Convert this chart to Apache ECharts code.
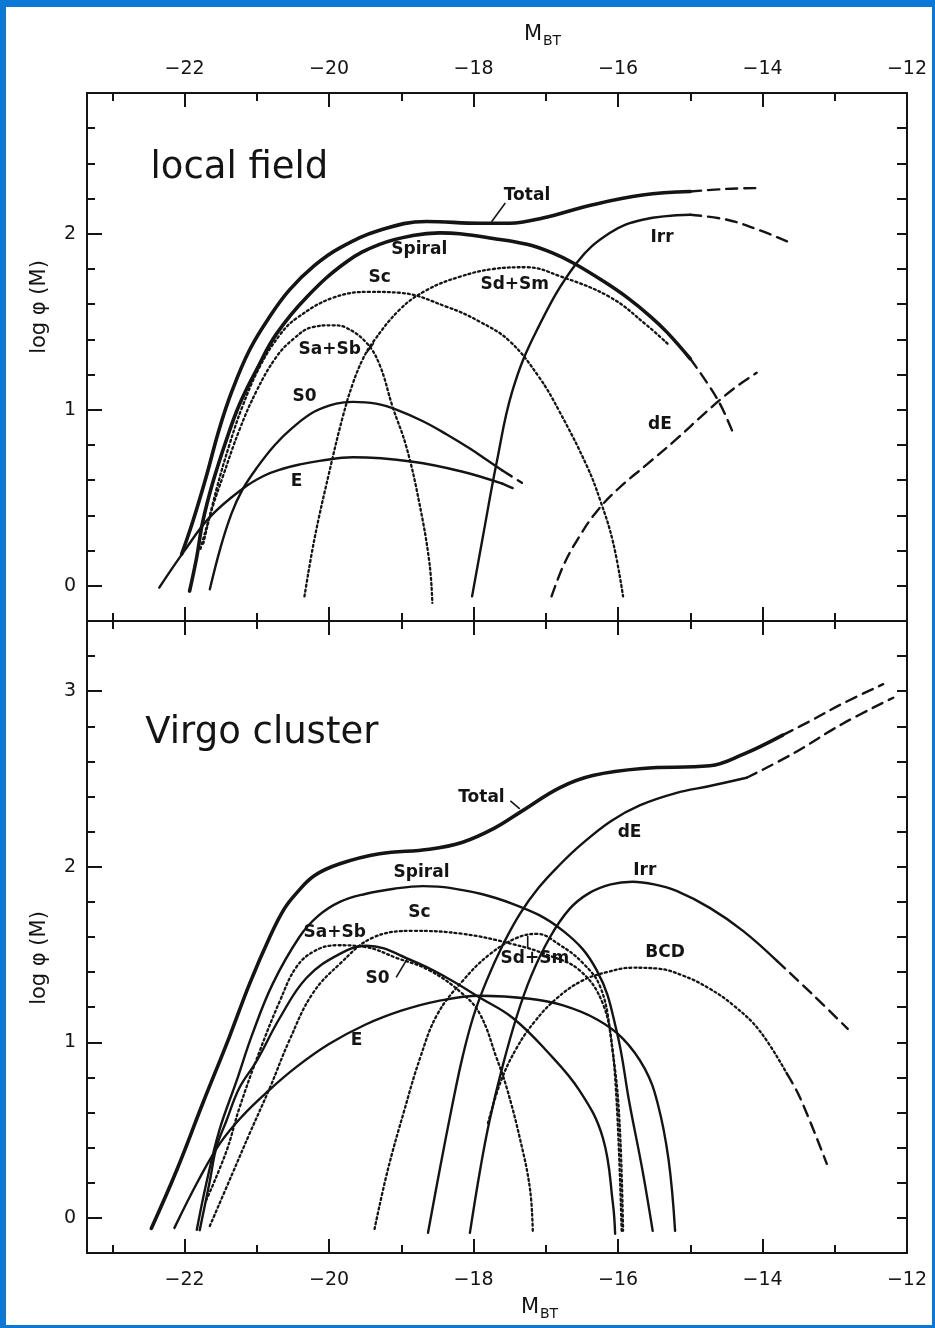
<!DOCTYPE html>
<html>
<head>
<meta charset="utf-8">
<script src="https://cdn.jsdelivr.net/npm/echarts@6/dist/echarts.min.js"></script>
<style>
  html, body { margin: 0; padding: 0; background: #0a78d4; }
  #paper { position: absolute; left: 6px; top: 7px; right: 3px; bottom: 3px; background: #fff; }
  #chart { position: absolute; left: 0; top: 0; width: 935px; height: 1328px; }
</style>
</head>
<body>
<div id="paper"></div>
<div id="chart"></div>
<script>
// ---- axis ticks and labels ----
const xMajorTicks = [-22, -20, -18, -16, -14];
const xMinorTicks = [-23, -21, -19, -17, -15, -13];
const xTickLabels = [-22, -20, -18, -16, -14, -12];
const yTicksField = [0, 0.2, 0.4, 0.6, 0.8, 1, 1.2, 1.4, 1.6, 1.8, 2, 2.2, 2.4, 2.6];
const yTicksVirgo = [0, 0.2, 0.4, 0.6, 0.8, 1, 1.2, 1.4, 1.6, 1.8, 2, 2.2, 2.4, 2.6, 2.8, 3, 3.2];
const yLabelsField = [0, 1, 2];
const yLabelsVirgo = [0, 1, 2, 3];

// ---- local field: [M_BT, log phi] ----
const fieldTotal = [[-22.04,0.18],[-21.89,0.36],[-21.70,0.62],[-21.52,0.89],[-21.34,1.11],[-21.10,1.34],[-20.82,1.53],[-20.55,1.68],[-20.20,1.82],[-19.85,1.92],[-19.30,2.02],[-18.65,2.07],[-17.91,2.06],[-17.50,2.06],[-17.04,2.09],[-16.35,2.165],[-15.66,2.22],[-15.00,2.24]];
const fieldTotalExt = [[-15.00,2.24],[-14.50,2.255],[-14.04,2.26]];
const fieldSpiral = [[-21.93,-0.03],[-21.83,0.165],[-21.75,0.36],[-21.61,0.585],[-21.42,0.83],[-21.24,1.03],[-21.00,1.23],[-20.73,1.43],[-20.31,1.64],[-19.76,1.84],[-19.30,1.94],[-18.84,1.99],[-18.47,2.005],[-18.19,2.00],[-17.75,1.975],[-17.26,1.94],[-16.90,1.89],[-16.60,1.83],[-16.20,1.73],[-15.88,1.64],[-15.55,1.53],[-15.32,1.44],[-15.00,1.29]];
const fieldSpiralExt = [[-15.00,1.29],[-14.62,1.057],[-14.41,0.87]];
const fieldSaSb = [[-21.78,0.21],[-21.61,0.45],[-21.47,0.62],[-21.24,0.886],[-21.00,1.11],[-20.73,1.30],[-20.50,1.40],[-20.23,1.47],[-19.95,1.48],[-19.76,1.466],[-19.48,1.38],[-19.30,1.256],[-19.12,1.017],[-18.93,0.79],[-18.75,0.47],[-18.61,0.13],[-18.57,-0.097]];
const fieldSc = [[-21.74,0.24],[-21.56,0.545],[-21.38,0.80],[-21.20,1.017],[-20.96,1.244],[-20.68,1.426],[-20.45,1.52],[-19.95,1.636],[-19.44,1.67],[-19.02,1.665],[-18.37,1.585],[-17.91,1.50],[-17.50,1.39],[-17.10,1.19],[-16.81,0.99],[-16.43,0.68],[-16.25,0.49],[-16.07,0.25],[-15.93,-0.06]];
const fieldSdSm = [[-20.34,-0.06],[-20.20,0.27],[-20.00,0.64],[-19.81,0.96],[-19.67,1.15],[-19.53,1.29],[-19.40,1.38],[-19.02,1.57],[-18.65,1.68],[-18.19,1.756],[-17.73,1.80],[-17.26,1.81],[-16.81,1.76],[-16.11,1.64],[-15.60,1.48],[-15.30,1.37]];
const fieldS0 = [[-21.65,-0.02],[-21.50,0.22],[-21.35,0.41],[-21.20,0.545],[-21.00,0.67],[-20.75,0.80],[-20.50,0.90],[-20.20,0.99],[-19.90,1.035],[-19.67,1.045],[-19.35,1.035],[-19.06,1.00],[-18.70,0.935],[-18.37,0.86],[-18.05,0.78],[-17.82,0.716],[-17.60,0.655]];
const fieldS0Ext = [[-17.60,0.655],[-17.33,0.585]];
const fieldE = [[-22.35,-0.01],[-22.00,0.20],[-21.65,0.39],[-21.20,0.55],[-20.90,0.625],[-20.64,0.665],[-20.40,0.69],[-20.13,0.71],[-19.67,0.73],[-18.84,0.705],[-18.15,0.648],[-17.60,0.58]];
const fieldEExt = [[-17.60,0.58],[-17.40,0.545]];
const fieldIrr = [[-18.02,-0.06],[-17.87,0.28],[-17.68,0.70],[-17.46,1.11],[-17.12,1.455],[-16.57,1.835],[-16.11,2.006],[-15.66,2.08],[-15.00,2.108]];
const fieldIrrExt = [[-15.00,2.108],[-14.49,2.08],[-14.04,2.02],[-13.62,1.95]];
const fieldDE = [[-16.92,-0.06],[-16.75,0.12],[-16.55,0.27],[-16.30,0.42],[-16.00,0.55],[-15.60,0.69],[-15.20,0.83],[-14.80,0.98],[-14.40,1.12],[-14.08,1.21]];

// ---- Virgo cluster: [M_BT, log phi] ----
const virgoTotal = [[-22.46,-0.06],[-22.11,0.27],[-21.75,0.65],[-21.38,1.03],[-21.10,1.333],[-20.82,1.60],[-20.62,1.76],[-20.45,1.85],[-20.20,1.95],[-19.85,2.017],[-19.30,2.074],[-18.61,2.10],[-18.15,2.14],[-17.71,2.22],[-17.32,2.32],[-16.81,2.45],[-16.35,2.52],[-15.66,2.56],[-14.73,2.575],[-14.27,2.64],[-13.72,2.75]];
const virgoTotalExt = [[-13.72,2.75],[-13.34,2.83],[-12.89,2.93],[-12.33,3.04]];
const virgoSpiral = [[-21.83,-0.068],[-21.70,0.194],[-21.52,0.496],[-21.28,0.78],[-21.06,1.048],[-20.78,1.333],[-20.41,1.60],[-20.15,1.72],[-19.85,1.80],[-19.50,1.845],[-19.10,1.875],[-18.70,1.89],[-18.33,1.88],[-17.46,1.789],[-16.76,1.635],[-16.29,1.407],[-16.02,1.066],[-15.84,0.65],[-15.66,0.268],[-15.52,-0.074]];
const virgoSaSb = [[-21.70,0.10],[-21.42,0.38],[-21.24,0.627],[-20.96,0.95],[-20.68,1.236],[-20.45,1.43],[-20.20,1.52],[-19.90,1.553],[-19.51,1.544],[-19.06,1.48],[-18.61,1.41],[-18.15,1.276],[-17.91,1.16],[-17.68,0.91],[-17.54,0.74],[-17.36,0.456],[-17.22,0.17],[-17.18,-0.074]];
const virgoSc = [[-21.65,-0.046],[-21.34,0.25],[-21.10,0.48],[-20.82,0.74],[-20.55,1.01],[-20.23,1.276],[-19.85,1.447],[-19.40,1.595],[-18.84,1.635],[-18.15,1.618],[-17.46,1.56],[-16.99,1.50],[-16.53,1.41],[-16.21,1.22],[-16.07,0.934],[-15.98,0.553],[-15.93,-0.074]];
const virgoSdSm = [[-19.37,-0.063],[-19.19,0.268],[-18.96,0.61],[-18.74,0.91],[-18.50,1.16],[-18.15,1.35],[-17.78,1.50],[-17.40,1.595],[-17.12,1.618],[-16.81,1.556],[-16.49,1.453],[-16.25,1.32],[-16.11,1.066],[-16.02,0.667],[-15.95,-0.074]];
const virgoS0 = [[-21.79,-0.07],[-21.65,0.21],[-21.56,0.40],[-21.42,0.553],[-21.24,0.741],[-21.00,0.895],[-20.68,1.14],[-20.31,1.368],[-19.85,1.504],[-19.48,1.55],[-18.84,1.464],[-18.37,1.368],[-17.91,1.254],[-17.46,1.14],[-16.99,0.952],[-16.53,0.724],[-16.21,0.456],[-16.07,0.08],[-16.04,-0.09]];
const virgoE = [[-22.14,-0.057],[-21.80,0.22],[-21.50,0.43],[-21.20,0.58],[-20.85,0.72],[-20.45,0.86],[-20.00,0.99],[-19.50,1.10],[-19.00,1.18],[-18.50,1.235],[-17.91,1.265],[-17.22,1.248],[-16.76,1.21],[-16.29,1.13],[-15.93,1.02],[-15.63,0.85],[-15.45,0.65],[-15.30,0.33],[-15.21,-0.074]];
const virgoDE = [[-18.63,-0.085],[-18.47,0.27],[-18.29,0.65],[-18.15,0.92],[-18.00,1.15],[-17.82,1.35],[-17.60,1.55],[-17.36,1.73],[-17.10,1.88],[-16.81,2.01],[-16.50,2.13],[-16.10,2.26],[-15.70,2.35],[-15.20,2.42],[-14.73,2.46],[-14.22,2.507]];
const virgoDEExt = [[-14.22,2.507],[-13.58,2.644],[-12.89,2.815],[-12.19,2.963]];
const virgoIrr = [[-18.05,-0.085],[-17.91,0.27],[-17.78,0.55],[-17.60,0.86],[-17.40,1.15],[-17.20,1.38],[-16.94,1.60],[-16.67,1.76],[-16.40,1.85],[-16.10,1.90],[-15.80,1.915],[-15.50,1.90],[-15.19,1.863],[-14.73,1.766],[-14.27,1.635],[-13.80,1.464]];
const virgoIrrExt = [[-13.80,1.464],[-13.30,1.27],[-12.82,1.077]];
const virgoBCD = [[-17.80,0.54],[-17.62,0.78],[-17.40,0.97],[-17.15,1.12],[-16.85,1.25],[-16.50,1.35],[-16.15,1.40],[-15.80,1.425],[-15.45,1.42],[-15.10,1.38],[-14.75,1.31],[-14.40,1.21],[-14.04,1.066],[-13.66,0.82]];
const virgoBCDExt = [[-13.66,0.82],[-13.48,0.684],[-13.11,0.308]];

// ---- curve labels: [M_BT, log phi, text] ----
const fieldLabels = [[-17.26,2.216,'Total'],[-18.75,1.91,'Spiral'],[-19.30,1.75,'Sc'],[-17.43,1.71,'Sd+Sm'],[-15.39,1.977,'Irr'],[-19.99,1.34,'Sa+Sb'],[-20.34,1.074,'S0'],[-20.45,0.59,'E'],[-15.42,0.915,'dE']];
const virgoLabels = [[-17.89,2.393,'Total'],[-18.72,1.966,'Spiral'],[-18.75,1.738,'Sc'],[-19.92,1.624,'Sa+Sb'],[-19.33,1.362,'S0'],[-19.62,1.009,'E'],[-17.15,1.476,'Sd+Sm'],[-15.84,2.194,'dE'],[-15.63,1.977,'Irr'],[-15.35,1.51,'BCD']];
const panelTitles = [[-21.24,2.37,'local field'],[-20.93,2.76,'Virgo cluster']];

// ---- leader strokes from labels to curves ----
const fieldLeaders = [[[-17.75,2.068],[-17.56,2.175]],[[-19.48,1.324],[-19.38,1.38]]];
const virgoLeaders = [[[-17.49,2.376],[-17.36,2.33]],[[-19.07,1.37],[-18.92,1.474]],[[-17.25,1.605],[-17.25,1.54]]];

const INK = '#141414';
const FONT = 'DejaVu Sans';
const X_MIN = -23.35, X_MAX = -12;

const fmt = v => (v < 0 ? '\u2212' : '') + Math.abs(v);

function xAxisDef(grid, pos, ticks, len, labels, line) {
  return {
    type: 'value', gridIndex: grid, position: pos, min: X_MIN, max: X_MAX,
    axisLine: { show: line, onZero: false, lineStyle: { color: INK, width: 2 } },
    axisTick: { show: true, inside: true, length: len, customValues: ticks, lineStyle: { color: INK, width: 2 } },
    axisLabel: labels ? { show: true, customValues: labels, formatter: fmt, color: INK, fontSize: 19, fontFamily: FONT, margin: pos === 'top' ? 14 : 18 } : { show: false },
    splitLine: { show: false }
  };
}
function yAxisDef(grid, pos, min, max, ticks, len, labels, line) {
  return {
    type: 'value', gridIndex: grid, position: pos, min: min, max: max,
    axisLine: { show: line, onZero: false, lineStyle: { color: INK, width: 2 } },
    axisTick: { show: true, inside: true, length: len, customValues: ticks, lineStyle: { color: INK, width: 2 } },
    axisLabel: labels ? { show: true, customValues: labels, formatter: fmt, color: INK, fontSize: 19, fontFamily: FONT, margin: 11 } : { show: false },
    splitLine: { show: false }
  };
}

const STYLES = {
  thick:  { width: 3.6, type: 'solid' },
  solid:  { width: 2.4, type: 'solid' },
  dotted: { width: 2.3, type: [2, 3] },
  dashed: { width: 2.4, type: [11, 7] }
};

function curve(name, data, grid, kind) {
  const s = STYLES[kind];
  return {
    name: name, type: 'line', data: data,
    xAxisIndex: grid === 0 ? 0 : 4, yAxisIndex: grid === 0 ? 0 : 3,
    symbol: 'none', smooth: 0.4, silent: true, animation: false, clip: true,
    lineStyle: { color: INK, width: s.width, type: s.type, cap: 'round' }
  };
}
function labelSeries(items, grid, size, weight) {
  return {
    type: 'scatter', xAxisIndex: grid === 0 ? 0 : 4, yAxisIndex: grid === 0 ? 0 : 3,
    data: items, symbolSize: 1, itemStyle: { color: 'rgba(0,0,0,0)', opacity: 1 }, silent: true, animation: false,
    label: { show: true, position: 'inside', formatter: p => p.value[2], color: INK, opacity: 1, fontSize: size, fontWeight: weight, fontFamily: FONT },
    labelLayout: { hideOverlap: false }
  };
}
function leaderSeries(list, grid) {
  return list.map(seg => ({
    type: 'line', data: seg, xAxisIndex: grid === 0 ? 0 : 4, yAxisIndex: grid === 0 ? 0 : 3,
    symbol: 'none', silent: true, animation: false, lineStyle: { color: INK, width: 1.6 }
  }));
}

const series = [
  curve('Total', fieldTotal, 0, 'thick'), curve('Total ext', fieldTotalExt, 0, 'dashed'),
  curve('Spiral', fieldSpiral, 0, 'thick'), curve('Spiral ext', fieldSpiralExt, 0, 'dashed'),
  curve('Sa+Sb', fieldSaSb, 0, 'dotted'), curve('Sc', fieldSc, 0, 'dotted'), curve('Sd+Sm', fieldSdSm, 0, 'dotted'),
  curve('S0', fieldS0, 0, 'solid'), curve('S0 ext', fieldS0Ext, 0, 'dashed'),
  curve('E', fieldE, 0, 'solid'), curve('E ext', fieldEExt, 0, 'dashed'),
  curve('Irr', fieldIrr, 0, 'solid'), curve('Irr ext', fieldIrrExt, 0, 'dashed'),
  curve('dE', fieldDE, 0, 'dashed'),

  curve('Total', virgoTotal, 1, 'thick'), curve('Total ext', virgoTotalExt, 1, 'dashed'),
  curve('Spiral', virgoSpiral, 1, 'solid'),
  curve('Sa+Sb', virgoSaSb, 1, 'dotted'), curve('Sc', virgoSc, 1, 'dotted'), curve('Sd+Sm', virgoSdSm, 1, 'dotted'),
  curve('S0', virgoS0, 1, 'solid'), curve('E', virgoE, 1, 'solid'),
  curve('dE', virgoDE, 1, 'solid'), curve('dE ext', virgoDEExt, 1, 'dashed'),
  curve('Irr', virgoIrr, 1, 'solid'), curve('Irr ext', virgoIrrExt, 1, 'dashed'),
  curve('BCD', virgoBCD, 1, 'dotted'), curve('BCD ext', virgoBCDExt, 1, 'dashed'),

  labelSeries(fieldLabels, 0, 17, 'bold'), labelSeries(virgoLabels, 1, 17, 'bold'),
  labelSeries([panelTitles[0]], 0, 37, 'normal'), labelSeries([panelTitles[1]], 1, 37, 'normal'),
  ...leaderSeries(fieldLeaders, 0), ...leaderSeries(virgoLeaders, 1)
];

const chart = echarts.init(document.getElementById('chart'), null, { renderer: 'canvas' });
chart.setOption({
  backgroundColor: 'transparent',
  animation: false,
  grid: [
    { left: 87, top: 93, width: 820, height: 528 },
    { left: 87, top: 621, width: 820, height: 632 }
  ],
  xAxis: [
    xAxisDef(0, 'top', xMajorTicks, 14, xTickLabels, true),
    xAxisDef(0, 'top', xMinorTicks, 8, null, false),
    xAxisDef(0, 'bottom', xMajorTicks, 14, null, true),
    xAxisDef(0, 'bottom', xMinorTicks, 8, null, false),
    xAxisDef(1, 'bottom', xMajorTicks, 14, xTickLabels, true),
    xAxisDef(1, 'bottom', xMinorTicks, 8, null, false),
    xAxisDef(1, 'top', xMajorTicks, 14, null, true),
    xAxisDef(1, 'top', xMinorTicks, 8, null, false)
  ],
  yAxis: [
    yAxisDef(0, 'left', -0.2, 2.8, yLabelsField, 15, yLabelsField, true),
    yAxisDef(0, 'left', -0.2, 2.8, yTicksField, 8, null, false),
    yAxisDef(0, 'right', -0.2, 2.8, yTicksField, 10, null, true),
    yAxisDef(1, 'left', -0.2, 3.4, yLabelsVirgo, 15, yLabelsVirgo, true),
    yAxisDef(1, 'left', -0.2, 3.4, yTicksVirgo, 8, null, false),
    yAxisDef(1, 'right', -0.2, 3.4, yTicksVirgo, 10, null, true)
  ],
  graphic: [
    { type: 'text', x: 533, y: 35, style: { text: 'M', fontSize: 21, fontFamily: FONT, fill: INK, align: 'center', verticalAlign: 'middle' } },
    { type: 'text', x: 552, y: 41, style: { text: 'BT', fontSize: 14, fontFamily: FONT, fill: INK, align: 'center', verticalAlign: 'middle' } },
    { type: 'text', x: 530, y: 1308, style: { text: 'M', fontSize: 21, fontFamily: FONT, fill: INK, align: 'center', verticalAlign: 'middle' } },
    { type: 'text', x: 549, y: 1314, style: { text: 'BT', fontSize: 14, fontFamily: FONT, fill: INK, align: 'center', verticalAlign: 'middle' } },
    { type: 'text', x: 40, y: 307, rotation: Math.PI / 2, style: { text: 'log \u03c6 (M)', fontSize: 21, fontFamily: FONT, fill: INK, align: 'center', verticalAlign: 'middle' } },
    { type: 'text', x: 40, y: 958, rotation: Math.PI / 2, style: { text: 'log \u03c6 (M)', fontSize: 21, fontFamily: FONT, fill: INK, align: 'center', verticalAlign: 'middle' } }
  ],
  series: series
});
</script>
</body>
</html>
